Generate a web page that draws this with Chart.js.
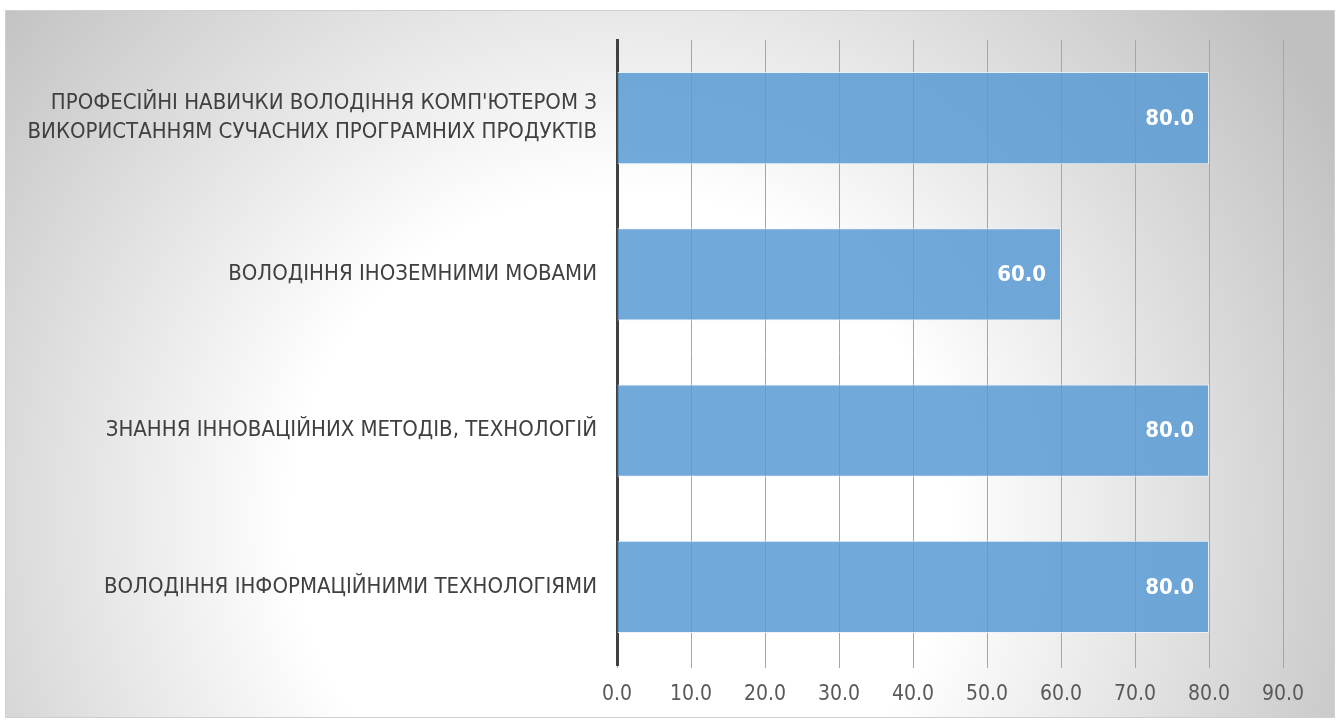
<!DOCTYPE html>
<html>
<head>
<meta charset="utf-8">
<script src="https://cdn.jsdelivr.net/npm/chart.js@4"></script>
<style>
  html, body { margin: 0; padding: 0; background: #fff; }
  #wrap { width: 1338px; height: 722px; }
</style>
</head>
<body>
<div id="wrap"><canvas id="grafico" width="1338" height="722"></canvas></div>
<script>
const categorias = [
  ['ПРОФЕСІЙНІ НАВИЧКИ ВОЛОДІННЯ КОМП\'ЮТЕРОМ З', 'ВИКОРИСТАННЯМ СУЧАСНИХ ПРОГРАМНИХ ПРОДУКТІВ'],
  'ВОЛОДІННЯ ІНОЗЕМНИМИ МОВАМИ',
  'ЗНАННЯ ІННОВАЦІЙНИХ МЕТОДІВ, ТЕХНОЛОГІЙ',
  'ВОЛОДІННЯ ІНФОРМАЦІЙНИМИ ТЕХНОЛОГІЯМИ'
];
const valores = [80, 60, 80, 80];
const ejeMax = 90;
const ejePaso = 10;

const fuente = '"Liberation Sans Narrow", "DejaVu Sans Condensed", sans-serif';

// Fondo con degradado y marco
const fondo = {
  id: 'fondo',
  beforeDraw(chart) {
    const ctx = chart.ctx;
    ctx.save();
    ctx.fillStyle = '#ffffff';
    ctx.fillRect(0, 0, chart.width, chart.height);
    const g = ctx.createRadialGradient(620, 520, 0, 620, 520, 820);
    g.addColorStop(0, '#ffffff');
    g.addColorStop(0.4, '#ffffff');
    g.addColorStop(1, '#c0c0c0');
    ctx.fillStyle = g;
    ctx.fillRect(5, 10, 1330, 708);
    ctx.strokeStyle = '#cfcfcf';
    ctx.lineWidth = 1;
    ctx.strokeRect(5.5, 10.5, 1329, 707);
    ctx.restore();
  }
};

// Etiquetas de valor dentro de la barra
const etiquetas = {
  id: 'etiquetas',
  afterDatasetsDraw(chart) {
    const ctx = chart.ctx;
    const meta = chart.getDatasetMeta(0);
    ctx.save();
    ctx.fillStyle = '#ffffff';
    ctx.font = 'bold 22px ' + fuente;
    ctx.textAlign = 'right';
    ctx.textBaseline = 'middle';
    meta.data.forEach((bar, i) => {
      ctx.fillText(valores[i].toFixed(1), bar.x - 15, bar.y + 1);
    });
    ctx.restore();
  }
};

new Chart(document.getElementById('grafico'), {
  type: 'bar',
  data: {
    labels: categorias,
    datasets: [{
      data: valores,
      backgroundColor: 'rgba(91,155,213,0.86)',
      borderColor: 'rgba(235,242,250,0.9)',
      borderWidth: 1,
      categoryPercentage: 1,
      barPercentage: 0.59
    }]
  },
  options: {
    indexAxis: 'y',
    responsive: false,
    animation: false,
    layout: { padding: { top: 40, right: 55, left: 0, bottom: 0 } },
    plugins: {
      legend: { display: false },
      tooltip: { enabled: false }
    },
    scales: {
      x: {
        min: 0,
        max: ejeMax,
        ticks: {
          stepSize: ejePaso,
          color: '#595959',
          font: { family: fuente, size: 21 },
          padding: 14,
          callback: v => Number(v).toFixed(1)
        },
        grid: {
          color: '#a6a6a6',
          lineWidth: 1,
          tickLength: 3,
          tickColor: '#a6a6a6'
        },
        border: { display: false },
        afterFit(scale) { scale.height = 57; }
      },
      y: {
        ticks: {
          color: '#404040',
          font: { family: fuente, size: 22, lineHeight: 1.32 },
          padding: 20,
          crossAlign: 'near'
        },
        grid: { display: false, drawTicks: false },
        border: { display: true, color: '#404040', width: 3 },
        afterFit(scale) { scale.width = 617; }
      }
    }
  },
  plugins: [fondo, etiquetas]
});
</script>
</body>
</html>
